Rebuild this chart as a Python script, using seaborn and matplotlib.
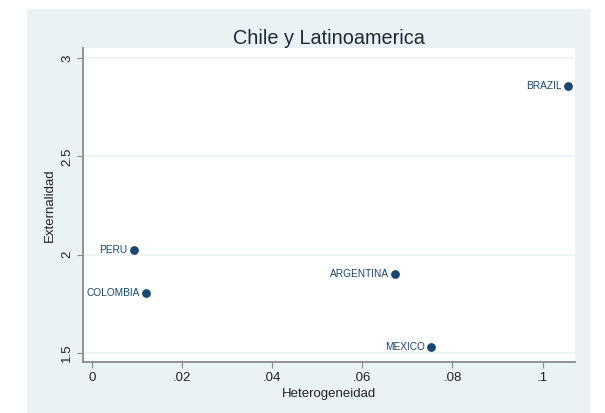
import pandas as pd
import seaborn as sns
import matplotlib.pyplot as plt

# --- Datos ---
paises = ["BRAZIL", "PERU", "COLOMBIA", "ARGENTINA", "MEXICO"]
heterogeneidad = [0.1056, 0.0093, 0.0120, 0.0673, 0.0753]
externalidad = [2.859, 2.025, 1.803, 1.904, 1.530]

df = pd.DataFrame({"pais": paises, "het": heterogeneidad, "ext": externalidad})

sns.set_style("white")
plt.rcParams["font.family"] = ["Liberation Sans", "DejaVu Sans"]

navy = "#1a476f"
panel = "#eaf2f3"
texto = "#222222"

fig = plt.figure(figsize=(6.05, 4.13), dpi=100, facecolor="white")

# fondo gris-azulado estilo Stata
fondo = fig.add_axes([27 / 605, 0, (590 - 27) / 605, 1 - 9 / 413], zorder=0)
fondo.set_facecolor(panel)
fondo.set_xticks([])
fondo.set_yticks([])
for s in fondo.spines.values():
    s.set_visible(False)

ax = fig.add_axes([83 / 605, 1 - 362 / 413, (575 - 83) / 605, (362 - 48) / 413],
                  zorder=1)
ax.set_facecolor("white")

sns.scatterplot(data=df, x="het", y="ext", color=navy, s=40, edgecolor=navy,
                linewidth=0, ax=ax, zorder=3)

for _, r in df.iterrows():
    ax.annotate(r["pais"], (r["het"], r["ext"]), xytext=(-4.5, 0),
                textcoords="offset points", ha="right", va="center",
                fontsize=7.3, color=navy)

ax.set_xlim(-0.002, 0.1072)
ax.set_ylim(1.454, 3.051)
ax.set_xticks([0, 0.02, 0.04, 0.06, 0.08, 0.1])
ax.set_xticklabels(["0", ".02", ".04", ".06", ".08", ".1"])
ax.set_yticks([1.5, 2, 2.5, 3])
ax.set_yticklabels(["1.5", "2", "2.5", "3"], rotation=90, va="center")

ax.grid(axis="y", color=panel, linewidth=1.2)
ax.set_axisbelow(True)
for s in ["top", "right"]:
    ax.spines[s].set_visible(False)
for s in ["left", "bottom"]:
    ax.spines[s].set_color("#8a8a8a")
    ax.spines[s].set_linewidth(1.3)
ax.tick_params(axis="both", direction="out", length=4, width=0.8,
               color="#8a8a8a", labelsize=9.5, labelcolor=texto, pad=3,
               bottom=True, left=True)

ax.set_xlabel("Heterogeneidad", fontsize=9.5, color=texto, labelpad=3)
ax.set_ylabel("Externalidad", fontsize=9.5, color=texto, labelpad=4)
ax.set_title("Chile y Latinoamerica", fontsize=14.3, color="#1e2a3a", pad=3)

fig.savefig("out.png", dpi=100, facecolor="white")
